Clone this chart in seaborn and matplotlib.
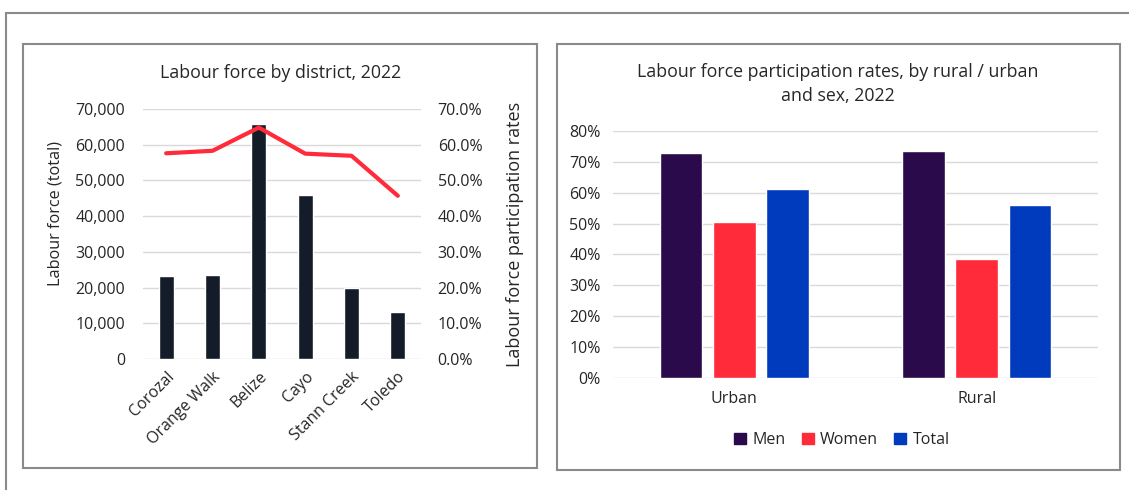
import matplotlib
matplotlib.use("Agg")
import matplotlib.pyplot as plt
import matplotlib.patches as mpatches
from matplotlib.ticker import FuncFormatter
import seaborn as sns
import pandas as pd

# ---- data ----
districts = ["Corozal", "Orange Walk", "Belize", "Cayo", "Stann Creek", "Toledo"]
labour_force = [23200, 23500, 65900, 45850, 19850, 13300]
participation = [0.576, 0.583, 0.648, 0.575, 0.569, 0.457]

areas = ["Urban", "Rural"]
sexes = ["Men", "Women", "Total"]
men_rates = [0.730, 0.734]
women_rates = [0.504, 0.385]
total_rates = [0.613, 0.561]

sns.set_theme(style="white")
plt.rcParams['font.family'] = ['Open Sans', 'DejaVu Sans']
TXT = "#262626"
GRID = "#d9d9d9"
FS = 11.5
FT = 12.8
FL = 13

W, H = 1129, 490
fig = plt.figure(figsize=(W / 100, H / 100), dpi=100)
fig.patch.set_facecolor("white")


def rect(x0, y0, x1, y1, lw=1.5, color="#8a8a8a"):
    r = mpatches.Rectangle((x0 / W, 1 - y1 / H), (x1 - x0) / W, (y1 - y0) / H,
                           transform=fig.transFigure, fill=False, lw=lw,
                           edgecolor=color, zorder=0)
    fig.patches.append(r)


rect(6, 13, 1140, 500, lw=1.5)
rect(23, 44, 537, 468, lw=1.5)
rect(557, 44, 1120, 470, lw=1.5)


def fax(x0, y0, x1, y1):
    return fig.add_axes([x0 / W, 1 - y1 / H, (x1 - x0) / W, (y1 - y0) / H])


# ---- left chart ----
ax1 = fax(143, 109, 421, 359)
df1 = pd.DataFrame({"district": districts, "lf": labour_force, "rate": participation})
sns.barplot(data=df1, x="district", y="lf", color="#141c29", width=0.32,
            saturation=1, ax=ax1, zorder=3)
ax1.set_ylim(0, 70000)
ax1.set_yticks(range(0, 70001, 10000))
ax1.yaxis.set_major_formatter(FuncFormatter(lambda v, p: f"{int(v):,}"))
ax1.grid(axis="y", color=GRID, lw=1, zorder=0)
ax1.set_axisbelow(True)
for s in ax1.spines.values():
    s.set_visible(False)
ax1.set_xlabel("")
ax1.set_ylabel("Labour force (total)", fontsize=11.7, color=TXT)
# label centred at x=55px, y=213px of the figure
ax1.yaxis.set_label_coords((55 - 143) / (421 - 143), (359 - 213) / (359 - 109))
ax1.yaxis.label.set_va("center")
ax1.tick_params(axis="y", length=0, labelsize=FS, labelcolor=TXT, pad=13)
ax1.tick_params(axis="x", length=0, labelsize=FS, labelcolor=TXT, pad=7)
plt.setp(ax1.get_xticklabels(), rotation=45, ha="right", rotation_mode="anchor")

ax2 = ax1.twinx()
sns.lineplot(data=df1, x="district", y="rate", color="#ff2a3a", lw=3, ax=ax2,
             sort=False)
ax2.set_ylim(0, 0.7)
ax2.set_yticks([i / 10 for i in range(8)])
ax2.yaxis.set_major_formatter(FuncFormatter(lambda v, p: f"{v*100:.1f}%"))
for s in ax2.spines.values():
    s.set_visible(False)
ax2.grid(False)
ax2.set_xlabel("")
ax2.set_ylabel("Labour force participation rates", fontsize=FL, color=TXT, labelpad=17)
ax2.tick_params(axis="y", length=0, labelsize=FS, labelcolor=TXT, pad=12)
ax1.set_xlim(-0.5, 5.5)

fig.text(281 / W, 1 - 73 / H, "Labour force by district, 2022", ha="center",
         va="center", fontsize=FT, color=TXT)

# ---- right chart ----
ax3 = fax(613, 131, 1098, 378)
df2 = pd.DataFrame({
    "area": areas * 3,
    "sex": [s for s in sexes for _ in areas],
    "rate": men_rates + women_rates + total_rates,
})
palette = {"Men": "#2a0a4a", "Women": "#ff2a3a", "Total": "#003bbd"}
sns.barplot(data=df2, x="area", y="rate", hue="sex", hue_order=sexes,
            order=areas, palette=palette, width=0.66, gap=0.2, saturation=1,
            ax=ax3, legend=False, zorder=3)
ax3.set_ylim(0, 0.8)
ax3.set_yticks([i / 10 for i in range(9)])
ax3.yaxis.set_major_formatter(FuncFormatter(lambda v, p: f"{v*100:.0f}%"))
ax3.grid(axis="y", color=GRID, lw=1, zorder=0)
ax3.set_axisbelow(True)
for s in ax3.spines.values():
    s.set_visible(False)
ax3.set_xlabel("")
ax3.set_ylabel("")
ax3.tick_params(axis="y", length=0, labelsize=FS, labelcolor=TXT, pad=9)
ax3.tick_params(axis="x", length=0, labelsize=FS, labelcolor=TXT, pad=9)
ax3.set_xlim(-0.5, 1.5)

handles = [mpatches.Patch(color=palette[s], label=s) for s in sexes]
fig.legend(handles=handles, loc="center", bbox_to_anchor=(842 / W, 1 - 440 / H),
           ncol=3, frameon=False, fontsize=FS, handlelength=0.75,
           handleheight=0.75, handletextpad=0.4, columnspacing=1.0,
           labelcolor=TXT)

fig.text(838 / W, 1 - 84 / H,
         "Labour force participation rates, by rural / urban\nand sex, 2022",
         ha="center", va="center", fontsize=FT, color=TXT, linespacing=1.45)

fig.savefig("out.png", dpi=100)
